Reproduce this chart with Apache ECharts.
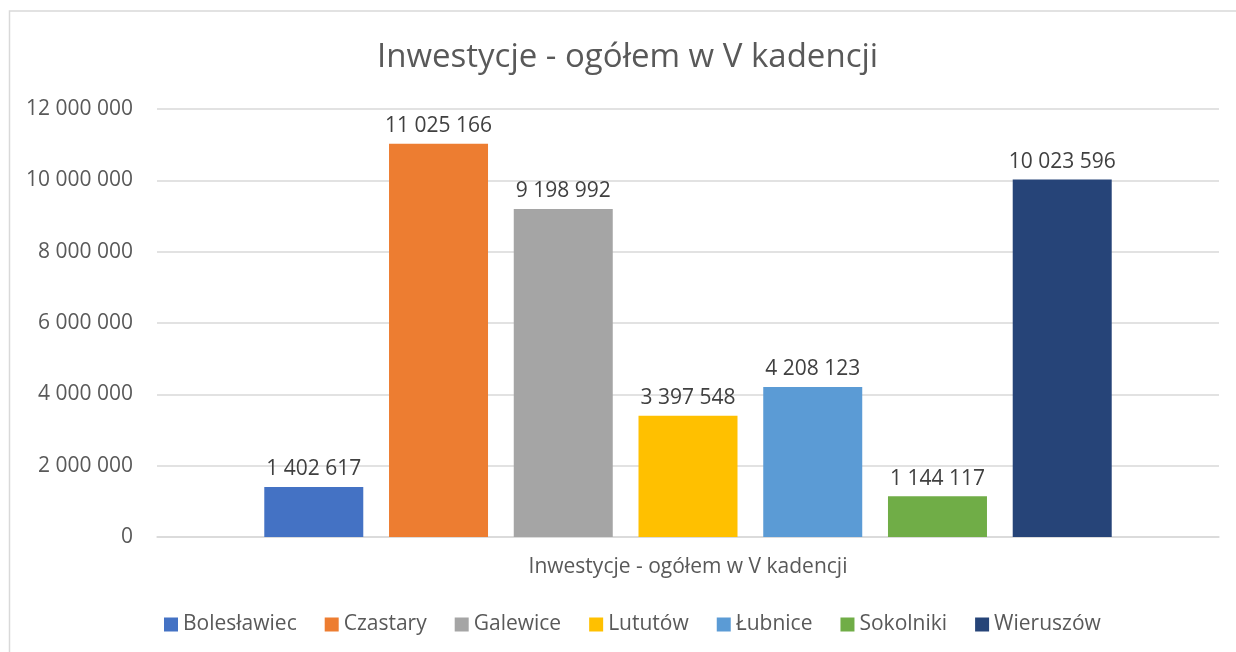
<!DOCTYPE html>
<html>
<head>
<meta charset="utf-8">
<script src="https://cdn.jsdelivr.net/npm/echarts@6/dist/echarts.min.js"></script>
<style>
  html, body { margin: 0; padding: 0; background: #fff; }
  #chart { width: 1236px; height: 652px; }
</style>
</head>
<body>
<div id="chart"></div>
<script>
var title = 'Inwestycje - ogółem w V kadencji';
var categories = ['Inwestycje - ogółem w V kadencji'];
var gminy = ['Bolesławiec', 'Czastary', 'Galewice', 'Lututów', 'Łubnice', 'Sokolniki', 'Wieruszów'];
var values = [1402617, 11025166, 9198992, 3397548, 4208123, 1144117, 10023596];
var colors = ['#4472C4', '#ED7D31', '#A5A5A5', '#FFC000', '#5B9BD5', '#70AD47', '#264478'];

var font = '"Open Sans", "Noto Sans", sans-serif';

function fmt(v) {
    return String(v).replace(/\B(?=(\d{3})+(?!\d))/g, ' ');
}

var series = gminy.map(function(name, i) {
    return {
        name: name,
        type: 'bar',
        barWidth: 99,
        barGap: '26%',
        itemStyle: { color: colors[i] },
        label: {
            show: true,
            position: 'top',
            distance: 7,
            color: '#404040',
            fontSize: 21,
            fontFamily: font,
            formatter: function(p) { return fmt(p.value); }
        },
        data: [values[i]]
    };
});

var myChart = echarts.init(document.getElementById('chart'));
myChart.setOption({
    animation: false,
    backgroundColor: '#fff',
    color: colors,
    textStyle: { fontFamily: font },
    title: {
        text: title,
        left: 372,
        top: 36,
        textStyle: { color: '#595959', fontSize: 33, fontWeight: 'normal', fontFamily: font }
    },
    graphic: [{
        type: 'rect',
        shape: { x: 9.5, y: 11, width: 1400, height: 800 },
        style: { fill: null, stroke: '#D9D9D9', lineWidth: 1.5 },
        silent: true
    }],
    legend: {
        left: 159,
        top: 609,
        itemWidth: 14,
        itemHeight: 14,
        itemGap: 28,
        icon: 'rect',
        textStyle: { color: '#595959', fontSize: 21, fontFamily: font },
        data: gminy
    },
    grid: {
        left: 157,
        right: 17,
        top: 109,
        bottom: 115,
        containLabel: false
    },
    xAxis: {
        type: 'category',
        data: categories,
        axisLine: { lineStyle: { color: '#D9D9D9', width: 1.5 } },
        axisTick: { show: false },
        axisLabel: { color: '#595959', fontSize: 21, margin: 20, fontFamily: font }
    },
    yAxis: {
        type: 'value',
        min: 0,
        max: 12000000,
        interval: 2000000,
        axisLine: { show: false },
        axisTick: { show: false },
        splitLine: { lineStyle: { color: '#D9D9D9', width: 1.5 } },
        axisLabel: {
            color: '#595959',
            fontSize: 21,
            margin: 24,
            fontFamily: font,
            formatter: function(v) { return fmt(v); }
        }
    },
    series: series
});
</script>
</body>
</html>
